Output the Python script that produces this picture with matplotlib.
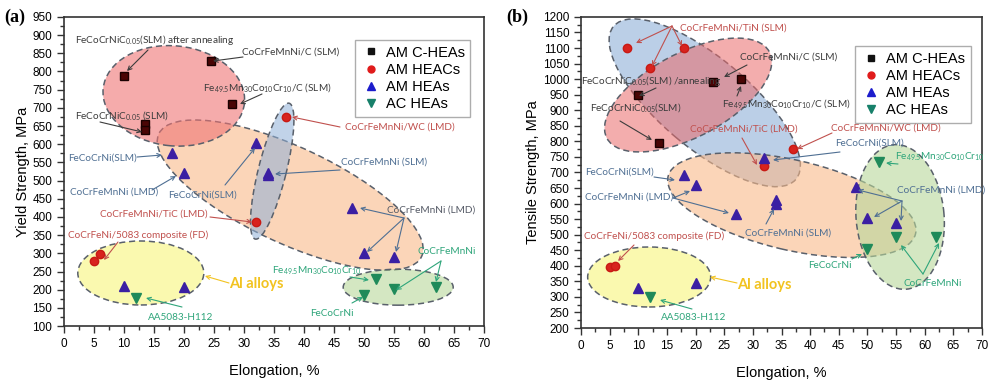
import matplotlib
matplotlib.use("Agg")
import matplotlib.pyplot as plt
from matplotlib.patches import Ellipse
from matplotlib.transforms import ScaledTranslation
from matplotlib.ticker import MultipleLocator
from matplotlib.colors import to_rgba
from matplotlib.lines import Line2D

plt.rcParams['font.family'] = ['Liberation Sans', 'DejaVu Sans']
plt.rcParams['mathtext.default'] = 'regular'

# ---- data, panel (a): yield strength vs elongation
a_chea_x = [10, 24.5, 28, 13.5, 13.5]
a_chea_y = [788, 829, 711, 657, 640]
a_heac_x = [37, 32, 5, 6]
a_heac_y = [675, 386, 280, 299]
a_hea_x = [18, 20, 32, 34, 34, 48, 50, 55, 10, 20]
a_hea_y = [576, 521, 603, 515, 522, 425, 301, 290, 210, 207]
a_ac_x = [12, 50, 52, 55, 62]
a_ac_y = [177, 185, 229, 202, 207]

# ---- data, panel (b): tensile strength vs elongation
b_chea_x = [10, 13.6, 23, 28]
b_chea_y = [950, 795, 990, 1000]
b_heac_x = [8, 18, 12, 37, 32, 5, 6]
b_heac_y = [1100, 1100, 1035, 776, 720, 396, 400]
b_hea_x = [18, 20, 27, 32, 34, 34, 48, 50, 55, 10, 20]
b_hea_y = [692, 660, 567, 747, 600, 612, 653, 554, 538, 329, 345]
b_ac_x = [52, 50, 55, 62, 12]
b_ac_y = [734, 454, 493, 493, 300]

groups = ['AM C-HEAs', 'AM HEACs', 'AM HEAs', 'AC HEAs']

DARK = '#3c3c3c'
RED = '#c0504d'
BLUE = '#4f6f93'
GREEN = '#2ea57a'
GOLD = '#f2c320'

fig = plt.figure(figsize=(10, 3.85), dpi=100)
axA = fig.add_axes([0.064, 0.153, 0.420, 0.803])
axB = fig.add_axes([0.581, 0.148, 0.401, 0.808])


def blob(ax, cx, cy, w, h, ang, fc, a=0.6, z=1):
    # ellipse sized in pixels, centred on a data point
    tr = fig.dpi_scale_trans + ScaledTranslation(cx, cy, ax.transData)
    e = Ellipse((0, 0), w / 100, h / 100, angle=ang, transform=tr,
                fc=to_rgba(fc, a), ec='#59606b', ls=(0, (4, 2.5)), lw=1.1, zorder=z)
    ax.add_patch(e)


def lab(ax, s, x, y, c, size=7.2, **kw):
    # x, y are pixel positions measured from the top-left of the figure
    ax.annotate(s, xy=(x, 385 - y), xycoords='figure pixels', color=c,
                fontsize=size, ha='left', va='center', family=['Lato', 'DejaVu Sans'],
                annotation_clip=False, zorder=6, **kw)


def arr(ax, tail, heads, c):
    for h in heads:
        ax.annotate('', xy=(h[0], 385 - h[1]), xycoords='figure pixels',
                    xytext=(tail[0], 385 - tail[1]), textcoords='figure pixels',
                    arrowprops=dict(arrowstyle='->', color=c, lw=0.8,
                                    mutation_scale=7, shrinkA=0, shrinkB=0),
                    annotation_clip=False, zorder=6)


def points(ax, xs, ys):
    ax.plot(xs[0], ys[0], 's', ms=5.3, mfc='#4a0505', mec='#1a0000', ls='none', zorder=4)
    ax.plot(xs[1], ys[1], 'o', ms=6, mfc='#d8231e', mec='#c81a14', ls='none', zorder=4)
    ax.plot(xs[2], ys[2], '^', ms=7, mfc='#3b1fa3', mec='#3b1fa3', ls='none', zorder=4)
    ax.plot(xs[3], ys[3], 'v', ms=7, mfc='#1f8a5a', mec='#1f8a5a', ls='none', zorder=4)


def frame(ax, ylo, yhi, ylabel):
    ax.set_xlim(0, 70)
    ax.set_ylim(ylo, yhi)
    ax.xaxis.set_major_locator(MultipleLocator(5))
    ax.xaxis.set_minor_locator(MultipleLocator(2.5))
    ax.yaxis.set_major_locator(MultipleLocator(50))
    ax.yaxis.set_minor_locator(MultipleLocator(25))
    ax.tick_params(which='both', direction='out', labelsize=8.5, width=1, color='#333333')
    ax.tick_params(which='major', length=5)
    ax.tick_params(which='minor', length=3)
    for s in ax.spines.values():
        s.set_color('#333333')
        s.set_linewidth(1.2)
    ax.set_xlabel('Elongation, %', fontsize=10.5, labelpad=10)
    ax.set_ylabel(ylabel, fontsize=10.5, labelpad=2)
    handles = [
        Line2D([], [], marker='s', color='#111111', ls='none', ms=4.5),
        Line2D([], [], marker='o', color='#e01b1b', ls='none', ms=5),
        Line2D([], [], marker='^', color='#1c1ccc', ls='none', ms=6),
        Line2D([], [], marker='v', color='#17806a', ls='none', ms=6),
    ]
    return handles


# ---------------- panel (a)
handles = frame(axA, 100, 950, 'Yield Strength, MPa')
blob(axA, 37.7, 460, 290, 96, -25, '#f9b98a')
blob(axA, 18.3, 733, 142, 100, -6, '#ef7474')
blob(axA, 34.7, 526, 140, 28, 76, '#8fb0d8', a=0.55)
blob(axA, 12.8, 246, 126, 64, 0, '#f8f67a')
blob(axA, 55.7, 207, 110, 36, 0, '#b8d89a')
points(axA, [a_chea_x, a_heac_x, a_hea_x, a_ac_x], [a_chea_y, a_heac_y, a_hea_y, a_ac_y])
axA.legend(handles, groups, loc='upper right', bbox_to_anchor=(0.985, 0.95),
           fontsize=10.5, frameon=True, fancybox=False, edgecolor='#999999',
           handletextpad=0.3, borderpad=0.4, labelspacing=0.22, handlelength=1.4)

lab(axA, 'FeCoCrNiC$_{0.05}$(SLM) after annealing', 75, 40, DARK)
arr(axA, (148, 50), [(127, 71)], DARK)
lab(axA, 'CoCrFeMnNi/C (SLM)', 242, 52, DARK)
arr(axA, (243, 57), [(213, 61)], DARK)
lab(axA, 'Fe$_{49.5}$Mn$_{30}$Co$_{10}$Cr$_{10}$/C (SLM)', 203, 88, DARK)
arr(axA, (262, 94), [(240, 104)], DARK)
lab(axA, 'FeCoCrNiC$_{0.05}$ (SLM)', 75, 116, DARK)
arr(axA, (100, 122), [(142, 132)], DARK)
lab(axA, 'FeCoCrNi(SLM)', 68, 158, BLUE)
arr(axA, (137, 157), [(162, 155)], BLUE)
lab(axA, 'CoCrFeMnNi (LMD)', 70, 192, BLUE)
arr(axA, (152, 190), [(176, 176)], BLUE)
lab(axA, 'FeCoCrNi(SLM)', 168, 195, BLUE)
arr(axA, (225, 185), [(255, 148)], BLUE)
lab(axA, 'CoCrFeMnNi/WC (LMD)', 345, 127, RED)
arr(axA, (340, 127), [(292, 117)], RED)
lab(axA, 'CoCrFeMnNi (SLM)', 341, 162, BLUE)
arr(axA, (340, 170), [(275, 174)], BLUE)
lab(axA, 'CoCrFeMnNi/TiC (LMD)', 100, 214, RED)
arr(axA, (210, 217), [(252, 222)], RED)
lab(axA, 'CoCrFeNi/5083 composite (FD)', 68, 235, RED)
arr(axA, (118, 242), [(104, 260)], RED)
lab(axA, 'CoCrFeMnNi (LMD)', 387, 210, '#555a66')
arr(axA, (404, 218), [(360, 208), (367, 252), (396, 252)], BLUE)
lab(axA, 'CoCrFeMnNi', 418, 252, GREEN)
arr(axA, (441, 261), [(436, 282), (396, 290)], GREEN)
lab(axA, 'Fe$_{49.5}$Mn$_{30}$Co$_{10}$Cr$_{10}$', 272, 271, GREEN)
arr(axA, (350, 277), [(369, 280)], GREEN)
lab(axA, 'FeCoCrNi', 310, 313, GREEN)
arr(axA, (352, 303), [(363, 297)], GREEN)
lab(axA, 'AA5083-H112', 148, 317, GREEN)
arr(axA, (182, 307), [(146, 298)], GREEN)
lab(axA, 'Al alloys', 229, 284, GOLD, size=10.5, fontweight='bold')
arr(axA, (229, 283), [(205, 276)], GOLD)

# ---------------- panel (b)
handles = frame(axB, 200, 1200, 'Tensile Strength, MPa')
blob(axB, 21.6, 924, 238, 90, -40, '#8fb0d8')
blob(axB, 18.7, 949, 184, 84, 28, '#ea6a6a', a=0.55)
blob(axB, 36.8, 595, 254, 90, -13, '#f9b98a', a=0.6)
blob(axB, 55.7, 557, 145, 88, 95, '#b8d89a', a=0.6)
blob(axB, 11.9, 364, 123, 60, 0, '#f8f67a')
points(axB, [b_chea_x, b_heac_x, b_hea_x, b_ac_x], [b_chea_y, b_heac_y, b_hea_y, b_ac_y])
axB.legend(handles, groups, loc='upper right', bbox_to_anchor=(0.99, 0.93),
           fontsize=10.5, frameon=True, fancybox=False, edgecolor='#999999',
           handletextpad=0.3, borderpad=0.4, labelspacing=0.22, handlelength=1.4)

lab(axB, 'CoCrFeMnNi/TiN (SLM)', 680, 28, RED)
arr(axB, (672, 26), [(636, 43), (682, 46), (652, 66)], RED)
lab(axB, 'CoCrFeMnNi/C (SLM)', 740, 57, DARK)
arr(axB, (747, 65), [(724, 77)], DARK)
lab(axB, 'FeCoCrNiC$_{0.05}$(SLM) /annealing', 581, 81, DARK)
arr(axB, (656, 88), [(639, 96)], DARK)
lab(axB, 'Fe$_{49.5}$Mn$_{30}$Co$_{10}$Cr$_{10}$/C (SLM)', 722, 104, DARK)
arr(axB, (737, 96), [(741, 86)], DARK)
lab(axB, 'FeCoCrNiC$_{0.05}$(SLM)', 590, 108, DARK)
arr(axB, (620, 121), [(652, 140)], DARK)
lab(axB, 'CoCrFeMnNi/TiC (LMD)', 690, 129, RED)
arr(axB, (742, 138), [(757, 165)], RED)
lab(axB, 'CoCrFeMnNi/WC (LMD)', 831, 128, RED)
arr(axB, (832, 133), [(797, 149)], RED)
lab(axB, 'FeCoCrNi(SLM)', 835, 143, BLUE)
arr(axB, (840, 152), [(773, 160)], BLUE)
lab(axB, 'Fe$_{49.5}$Mn$_{30}$Co$_{10}$Cr$_{10}$', 895, 157, GREEN)
arr(axB, (898, 164), [(886, 163)], GREEN)
lab(axB, 'CoCrFeMnNi (LMD)', 897, 190, BLUE)
arr(axB, (902, 201), [(858, 190), (874, 217), (901, 221)], BLUE)
lab(axB, 'FeCoCrNi(SLM)', 585, 172, BLUE)
arr(axB, (654, 177), [(675, 180)], BLUE)
lab(axB, 'CoCrFeMnNi (LMD)', 585, 197, BLUE)
arr(axB, (673, 198), [(690, 191), (729, 213)], BLUE)
lab(axB, 'CoCrFeMnNi (SLM)', 745, 233, BLUE)
arr(axB, (766, 224), [(774, 209)], BLUE)
lab(axB, 'FeCoCrNi', 808, 265, GREEN)
arr(axB, (852, 259), [(862, 254)], GREEN)
lab(axB, 'CoCrFeMnNi', 903, 283, GREEN)
arr(axB, (923, 274), [(901, 245), (939, 243)], GREEN)
lab(axB, 'CoCrFeNi/5083 composite (FD)', 584, 236, RED)
arr(axB, (634, 245), [(618, 261)], RED)
lab(axB, 'AA5083-H112', 661, 318, GREEN)
arr(axB, (692, 309), [(660, 300)], GREEN)
lab(axB, 'Al alloys', 737, 285, GOLD, size=10.5, fontweight='bold')
arr(axB, (737, 283), [(710, 277)], GOLD)

# panel letters
fig.text(0.004, 0.955, '(a)', fontsize=13, fontweight='bold', family='Liberation Serif', va='center')
fig.text(0.506, 0.955, '(b)', fontsize=13, fontweight='bold', family='Liberation Serif', va='center')

fig.savefig('out.png', dpi=100)
